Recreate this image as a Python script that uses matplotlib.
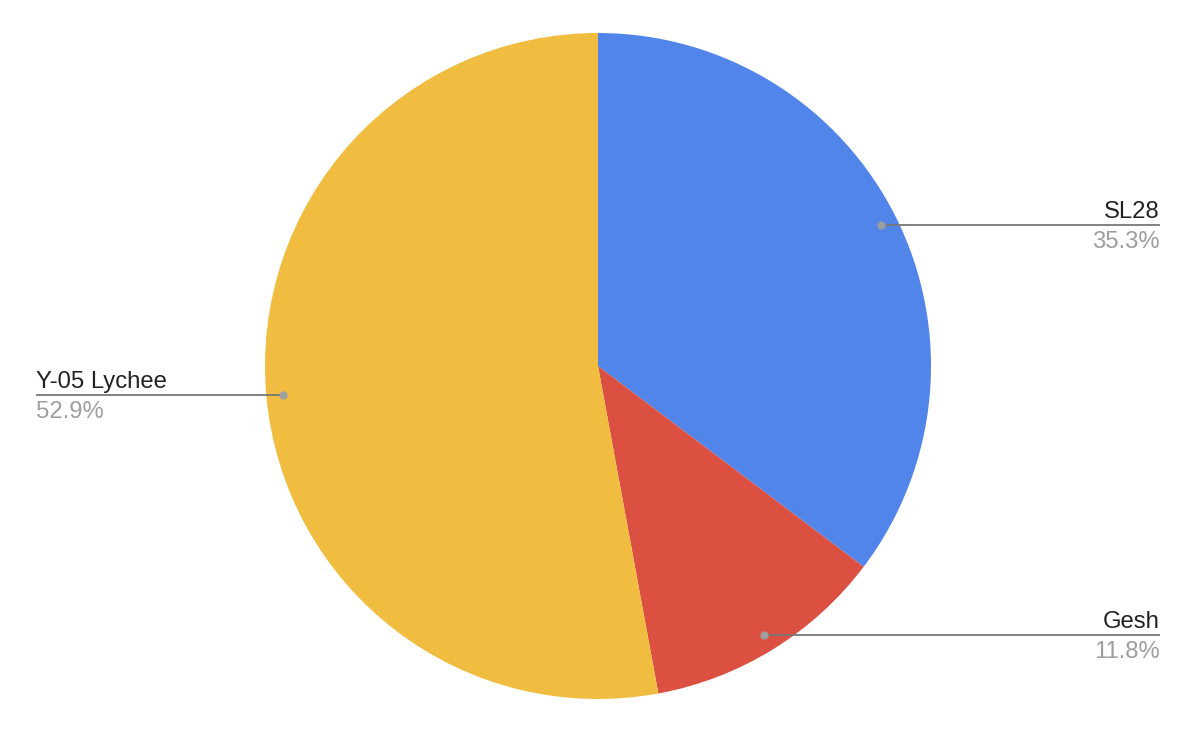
import numpy as np
import matplotlib
matplotlib.use("Agg")
import matplotlib.pyplot as plt

labels = ["SL28", "Gesh", "Y-05 Lychee"]
values = [35.3, 11.8, 52.9]
colors = ["#5185EA", "#DB5040", "#F0BD40"]

W, H = 1194, 734
fig = plt.figure(figsize=(W / 100, H / 100), dpi=100)
ax = fig.add_axes([0, 0, 1, 1])
ax.set_xlim(0, W)
ax.set_ylim(0, H)
ax.set_aspect("equal")
ax.axis("off")

cx, cy, R = 598, H - 366, 333
wedges, _ = ax.pie(values, colors=colors, startangle=90, counterclock=False,
                   center=(cx, cy), radius=R, frame=True,
                   wedgeprops=dict(linewidth=0))
ax.set_xlim(0, W)
ax.set_ylim(0, H)
ax.axis("off")

font = "Liberation Sans"
for w, lab, v in zip(wedges, labels, values):
    mid = np.deg2rad((w.theta1 + w.theta2) / 2)
    ax_x = cx + 0.95 * R * np.cos(mid)
    ax_y = cy + 0.95 * R * np.sin(mid)
    if np.cos(mid) >= 0:
        end_x, ha = 1160, "right"
    else:
        end_x, ha = 36, "left"
    ax.plot([ax_x, end_x], [ax_y, ax_y], color="#777777", lw=1.3, zorder=3,
            solid_capstyle="butt")
    ax.plot([ax_x], [ax_y], "o", color="#9E9E9E", ms=6, zorder=4, mec="none")
    ax.text(end_x, ax_y + 7, lab, ha=ha, va="baseline", fontsize=17.2,
            family=font, color="#222222")
    ax.text(end_x, ax_y - 6, f"{v:.1f}%", ha=ha, va="top", fontsize=17.2,
            family=font, color="#9E9E9E")

fig.savefig("out.png", dpi=100, facecolor="white")
